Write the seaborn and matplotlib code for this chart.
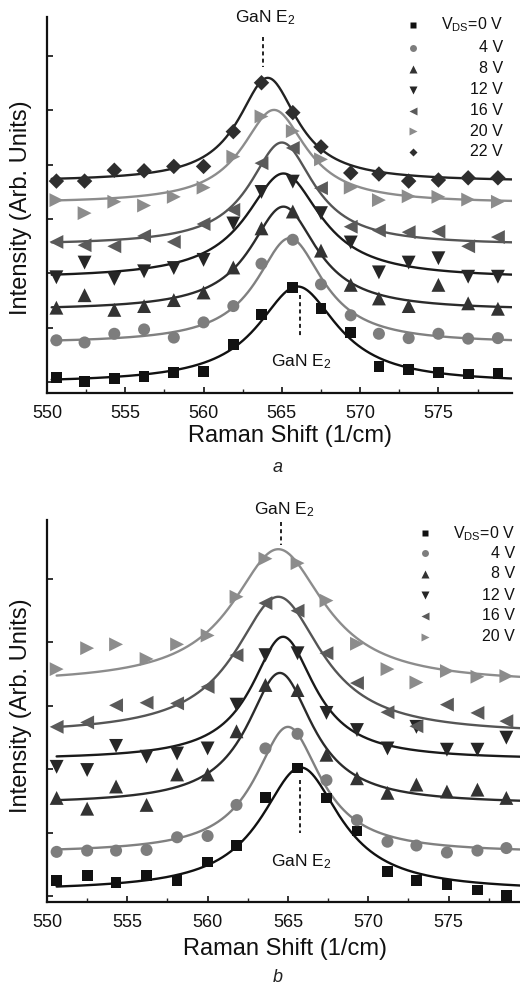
import numpy as np
import pandas as pd
import matplotlib
matplotlib.use("Agg")
import matplotlib.pyplot as plt
import seaborn as sns
from matplotlib.ticker import MultipleLocator

# ---------------- data ----------------
labels_a = ["0 V", "4 V", "8 V", "12 V", "16 V", "20 V", "22 V"]
labels_b = ["0 V", "4 V", "8 V", "12 V", "16 V", "20 V"]

x_a = [550.6, 552.4, 554.3, 556.2, 558.1, 560.0, 561.9, 563.7, 565.7, 567.5, 569.4, 571.2, 573.1, 575.0, 576.9, 578.8]
x_b = [550.6, 552.5, 554.3, 556.2, 558.1, 560.0, 561.8, 563.6, 565.6, 567.4, 569.3, 571.2, 573.0, 574.9, 576.8, 578.6]

a_0V = [0.08, 0.01, 0.07, 0.11, 0.18, 0.20, 0.69, 1.24, 1.74, 1.36, 0.92, 0.29, 0.23, 0.18, 0.15, 0.16]
a_4V = [0.77, 0.73, 0.89, 0.97, 0.82, 1.10, 1.40, 2.18, 2.62, 1.80, 1.23, 0.89, 0.81, 0.89, 0.80, 0.81]
a_8V = [1.37, 1.60, 1.33, 1.40, 1.51, 1.65, 2.11, 2.83, 3.14, 2.42, 1.79, 1.54, 1.40, 1.79, 1.45, 1.35]
a_12V = [1.93, 2.20, 1.90, 2.04, 2.10, 2.25, 2.92, 3.50, 3.69, 3.11, 2.57, 2.02, 2.20, 2.28, 1.94, 1.94]
a_16V = [2.58, 2.52, 2.50, 2.69, 2.58, 2.91, 3.17, 4.03, 4.31, 3.57, 2.86, 2.79, 2.76, 2.77, 2.50, 2.67]
a_20V = [3.35, 3.11, 3.32, 3.25, 3.41, 3.58, 4.15, 4.89, 4.62, 4.10, 3.58, 3.35, 3.42, 3.41, 3.36, 3.32]
a_22V = [3.70, 3.70, 3.90, 3.89, 3.97, 3.97, 4.61, 5.51, 4.96, 4.33, 3.85, 3.83, 3.70, 3.72, 3.76, 3.76]

b_0V = [0.25, 0.33, 0.22, 0.33, 0.25, 0.54, 0.80, 1.56, 2.02, 1.55, 1.03, 0.39, 0.25, 0.18, 0.10, 0.01]
b_4V = [0.70, 0.72, 0.72, 0.73, 0.93, 0.95, 1.44, 2.33, 2.56, 1.83, 1.20, 0.86, 0.80, 0.69, 0.72, 0.76]
b_8V = [1.55, 1.38, 1.73, 1.44, 1.92, 1.92, 2.60, 3.33, 3.25, 2.23, 1.86, 1.63, 1.76, 1.65, 1.68, 1.55]
b_12V = [2.04, 1.99, 2.37, 2.20, 2.25, 2.33, 3.02, 3.80, 3.83, 2.89, 2.62, 2.33, 2.67, 2.31, 2.31, 2.50]
b_16V = [2.67, 2.74, 3.01, 3.05, 3.04, 3.30, 3.80, 4.62, 4.50, 3.83, 3.36, 2.90, 2.68, 3.02, 2.89, 2.76]
b_20V = [3.58, 3.91, 3.97, 3.74, 3.97, 4.11, 4.72, 5.32, 5.25, 4.66, 3.98, 3.58, 3.37, 3.55, 3.46, 3.47]

# Lorentzian fit parameters
fit_center_a = [566.0, 565.5, 565.1, 565.1, 565.0, 564.5, 564.1]
fit_width_a = [3.1, 2.6, 2.6, 2.9, 2.5, 2.5, 2.3]
fit_amp_a = [1.78, 1.94, 1.91, 1.935, 1.89, 1.72, 1.91]
fit_base_a = [-0.02, 0.71, 1.32, 1.905, 2.52, 3.29, 3.69]

fit_center_b = [565.8, 565.0, 564.5, 564.7, 564.4, 564.4]
fit_width_b = [3.0, 2.5, 2.5, 2.4, 3.3, 3.5]
fit_amp_b = [1.95, 1.99, 2.07, 1.94, 2.17, 2.12]
fit_base_b = [0.08, 0.68, 1.45, 2.15, 2.55, 3.35]

# ---------------- styles ----------------
markers = ["s", "o", "^", "v", "<", ">", "D"]
marker_sizes = [60, 75, 100, 100, 100, 100, 62]
leg_ms = [4.5, 5.0, 6.0, 6.0, 6.0, 6.0, 4.5]
marker_colors = ["#111111", "#7d7d7d", "#333333", "#262626", "#5a5a5a", "#8c8c8c", "#2e2e2e"]
line_colors_a = ["#111111", "#808080", "#2b2b2b", "#1a1a1a", "#555555", "#8c8c8c", "#222222"]
line_colors_b = ["#111111", "#808080", "#2b2b2b", "#1a1a1a", "#555555", "#8c8c8c"]

sns.set_style("ticks")
plt.rcParams["font.family"] = ["Liberation Sans", "DejaVu Sans"]
plt.rcParams["mathtext.fontset"] = "custom"
plt.rcParams["mathtext.rm"] = "Liberation Sans"
plt.rcParams["mathtext.it"] = "Liberation Sans:italic"

W, H = 520, 985
fig = plt.figure(figsize=(W / 100, H / 100), dpi=100)
fig.patch.set_facecolor("white")


def rect(l, t, r, b):
    return [l / W, 1 - b / H, (r - l) / W, (b - t) / H]


axA = fig.add_axes(rect(47, 17, 512, 393))
axB = fig.add_axes(rect(47, 520, 520, 902))


def lorentz(xg, c, w, a, b):
    return b + a / (1 + ((xg - c) / w) ** 2)


def draw_panel(ax, xs, ys_list, labels, centers, widths, amps, bases, lcolors, xlim, ylim, nyt, xstart):
    grid = np.linspace(xstart, xlim[1] + 0.5, 600)
    for i, ys in enumerate(ys_list):
        curve = lorentz(grid, centers[i], widths[i], amps[i], bases[i])
        sns.lineplot(x=grid, y=curve, color=lcolors[i], lw=1.7, ax=ax,
                     sort=False, estimator=None, zorder=2)
    for i, ys in enumerate(ys_list):
        df = pd.DataFrame({"x": xs, "y": ys, "series": labels[i]})
        sns.scatterplot(data=df, x="x", y="y", marker=markers[i], s=marker_sizes[i],
                        color=marker_colors[i], edgecolor="none", linewidth=0,
                        ax=ax, zorder=3, legend=False)
    ax.set_xlim(*xlim)
    ax.set_ylim(*ylim)
    ax.set_xticks([550, 555, 560, 565, 570, 575])
    ax.xaxis.set_minor_locator(MultipleLocator(2.5))
    ax.set_yticks(list(range(nyt)))
    ax.set_yticklabels([])
    ax.tick_params(axis="both", which="major", direction="in", length=4.5, width=1.2,
                   labelsize=13, pad=8.5, colors="#111111")
    ax.tick_params(axis="x", which="minor", direction="in", length=3, width=1.0)
    for sp in ["top", "right"]:
        ax.spines[sp].set_visible(False)
    for sp in ["left", "bottom"]:
        ax.spines[sp].set_linewidth(1.6)
        ax.spines[sp].set_color("#111111")
    ax.set_xlabel("Raman Shift (1/cm)", fontsize=17, color="#111111")
    ax.set_ylabel("Intensity (Arb. Units)", fontsize=17, color="#111111")


draw_panel(axA, x_a, [a_0V, a_4V, a_8V, a_12V, a_16V, a_20V, a_22V], labels_a,
           fit_center_a, fit_width_a, fit_amp_a, fit_base_a, line_colors_a,
           (550, 579.7), (-0.20, 6.72), 7, 550.3)
draw_panel(axB, x_b, [b_0V, b_4V, b_8V, b_12V, b_16V, b_20V], labels_b,
           fit_center_b, fit_width_b, fit_amp_b, fit_base_b, line_colors_b,
           (550, 579.45), (-0.09, 5.93), 6, 550.6)

axA.xaxis.set_label_coords(0.523, -0.085)
axA.yaxis.set_label_coords(-0.032, 0.493)
axB.xaxis.set_label_coords(0.503, -0.094)
axB.yaxis.set_label_coords(-0.032, 0.513)

# ---------------- peak annotations ----------------
ann_a = {"top": (563.8, 6.70, 6.35, 5.80), "bottom": (566.15, 0.37, 1.60, 0.83)}
ann_b = {"top": (564.6, 6.09, 5.90, 5.54), "bottom": (565.75, 0.55, 1.83, 1.00)}
lbl = "GaN E$_2$"
for ax, ann in [(axA, ann_a), (axB, ann_b)]:
    xt, yt, y1, y2 = ann["top"]
    ax.text(xt + 0.15, yt, lbl, ha="center", va="center", fontsize=12.5, color="#111111", clip_on=False)
    ax.plot([xt, xt], [y1, y2], ls=(0, (2.2, 1.8)), lw=1.3, color="#111111", clip_on=False)
    xb, yb, y1, y2 = ann["bottom"]
    ax.text(xb + 0.1, yb, lbl, ha="center", va="center", fontsize=12.5, color="#111111")
    ax.plot([xb, xb], [y1, y2], ls=(0, (2.2, 1.8)), lw=1.3, color="#111111")

# ---------------- legends ----------------
leg_rows_a = [25, 47.5, 68.5, 89.5, 110.5, 131, 151.5]
leg_rows_b = [533.3, 553, 573.5, 595, 616, 636.5]
leg_text = ["V$_{\\rm DS}$=0 V", "4 V", "8 V", "12 V", "16 V", "20 V", "22 V"]
for rows, mx, tx in [(leg_rows_a, 413, 503), (leg_rows_b, 425, 515)]:
    for i, ry in enumerate(rows):
        fig.add_artist(plt.Line2D([mx / W], [1 - ry / H], marker=markers[i], ms=leg_ms[i],
                                  color=marker_colors[i], mec="none", ls="none",
                                  transform=fig.transFigure))
        fig.text(tx / W, 1 - ry / H, leg_text[i], ha="right", va="center", fontsize=11.5, color="#111111")

# ---------------- captions ----------------
fig.text(278 / W, 1 - 468 / H, "a", ha="center", va="center", fontsize=13, style="italic", color="#222222")
fig.text(278 / W, 1 - 978 / H, "b", ha="center", va="center", fontsize=13, style="italic", color="#222222")

fig.savefig("out.png", dpi=100, facecolor="white")
